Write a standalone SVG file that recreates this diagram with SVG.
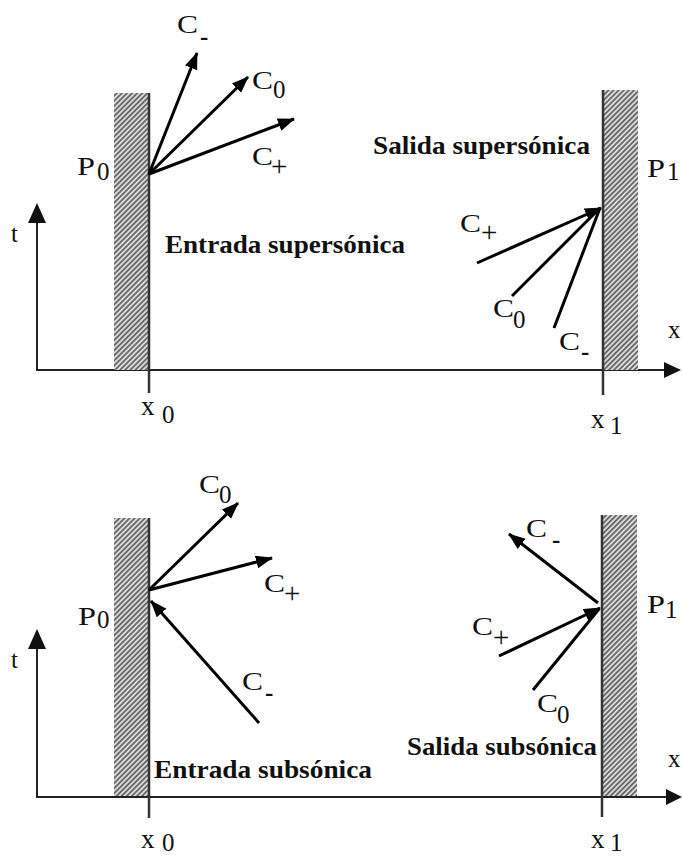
<svg xmlns="http://www.w3.org/2000/svg" width="682" height="857" viewBox="0 0 682 857">
<style>
.lbl{font-family:"Liberation Serif","Times New Roman",serif;font-size:25px;fill:#111}
.plus{font-family:"Liberation Serif","Times New Roman",serif;font-size:29px;fill:#111}
.bold{font-family:"Liberation Serif","Times New Roman",serif;font-size:26px;font-weight:bold;fill:#111}
.ax{font-family:"Liberation Serif","Times New Roman",serif;font-size:27px;fill:#111}
.wall{stroke:#333;stroke-width:2.5;fill:none}
.axis{stroke:#222;stroke-width:2;fill:none}
.arr{stroke:#000;stroke-width:3;fill:none}
.hatch{fill:url(#hp)}
</style>
<defs>
<pattern id="hp" patternUnits="userSpaceOnUse" width="3.6" height="10" patternTransform="rotate(45)">
<rect width="3.6" height="10" fill="#dadada"/>
<line x1="0.9" y1="0" x2="0.9" y2="10" stroke="#5a5a5a" stroke-width="1.6"/>
</pattern>
<marker id="ah" markerUnits="userSpaceOnUse" markerWidth="18" markerHeight="14" refX="16" refY="6.5" orient="auto">
<path d="M0,0 L17,6.5 L0,13 z" fill="#000"/>
</marker>
</defs>
<rect width="682" height="857" fill="#fff"/>

<!-- TOP PANEL -->
<g id="top-axes">
<path class="axis" d="M37,222 V370 H666"/>
<polygon points="37,203 28,223 46,223" fill="#111"/>
<polygon points="681,370 664,362 664,378" fill="#111"/>
</g>
<g id="top-wall-left">
<rect class="hatch" x="114" y="93" width="35" height="277"/>
<line class="wall" x1="149" y1="93" x2="149" y2="393"/>
</g>
<g id="top-wall-right">
<rect class="hatch" x="603" y="90" width="35" height="280"/>
<line class="wall" x1="603" y1="90" x2="603" y2="395"/>
</g>
<g id="top-connectors">
<line class="arr" x1="149" y1="174" x2="197" y2="53" marker-end="url(#ah)"/>
<line class="arr" x1="149" y1="174" x2="248" y2="77" marker-end="url(#ah)"/>
<line class="arr" x1="149" y1="174" x2="294" y2="119" marker-end="url(#ah)"/>
<line class="arr" x1="554" y1="328" x2="600" y2="208"/>
<line class="arr" x1="512" y1="296" x2="600" y2="208"/>
<line class="arr" x1="477" y1="263" x2="601" y2="208" marker-end="url(#ah)"/>
</g>
<g id="top-labels">
<text class="lbl" x="177" y="33" textLength="21" lengthAdjust="spacingAndGlyphs">C</text><text class="lbl" x="200" y="45" font-weight="bold">-</text>
<text class="lbl" x="252" y="89" textLength="21" lengthAdjust="spacingAndGlyphs">C</text><text class="lbl" x="273" y="98">0</text>
<text class="lbl" x="252" y="165" textLength="21" lengthAdjust="spacingAndGlyphs">C</text><text class="plus" x="271" y="176">+</text>
<text class="lbl" x="77" y="175" textLength="18" lengthAdjust="spacingAndGlyphs">P</text><text class="lbl" x="97" y="180">0</text>
<text class="lbl" x="647" y="177" textLength="18" lengthAdjust="spacingAndGlyphs">P</text><text class="lbl" x="667" y="180">1</text>
<text class="lbl" x="460" y="232" textLength="21" lengthAdjust="spacingAndGlyphs">C</text><text class="plus" x="481" y="242">+</text>
<text class="lbl" x="493" y="317" textLength="21" lengthAdjust="spacingAndGlyphs">C</text><text class="lbl" x="513" y="328">0</text>
<text class="lbl" x="559" y="350" textLength="21" lengthAdjust="spacingAndGlyphs">C</text><text class="lbl" x="581" y="360" font-weight="bold">-</text>
<text class="lbl" x="668" y="338">x</text>
<text class="lbl" x="11" y="242">t</text>
<text class="ax" x="141" y="415">x</text><text class="lbl" x="162" y="423">0</text>
<text class="ax" x="591" y="428">x</text><text class="lbl" x="610" y="434">1</text>
<text class="bold" x="373" y="154" textLength="217" lengthAdjust="spacingAndGlyphs">Salida supersónica</text>
<text class="bold" x="165" y="253" textLength="240" lengthAdjust="spacingAndGlyphs">Entrada supersónica</text>
</g>

<!-- BOTTOM PANEL -->
<g id="bottom-axes">
<path class="axis" d="M37,648 V797 H668"/>
<polygon points="37,629 28,649 46,649" fill="#111"/>
<polygon points="682,797 666,789 666,805" fill="#111"/>
</g>
<g id="bottom-wall-left">
<rect class="hatch" x="114" y="518" width="35" height="278"/>
<line class="wall" x1="149" y1="518" x2="149" y2="818"/>
</g>
<g id="bottom-wall-right">
<rect class="hatch" x="602" y="515" width="35" height="281"/>
<line class="wall" x1="602" y1="515" x2="602" y2="817"/>
</g>
<g id="bottom-connectors">
<line class="arr" x1="149" y1="590" x2="238" y2="503" marker-end="url(#ah)"/>
<line class="arr" x1="149" y1="590" x2="272" y2="558" marker-end="url(#ah)"/>
<line class="arr" x1="259" y1="723" x2="151" y2="601" marker-end="url(#ah)"/>
<line class="arr" x1="598" y1="603" x2="509" y2="534" marker-end="url(#ah)"/>
<line class="arr" x1="533" y1="690" x2="599" y2="609"/>
<line class="arr" x1="499" y1="656" x2="600" y2="608" marker-end="url(#ah)"/>
</g>
<g id="bottom-labels">
<text class="lbl" x="199" y="493" textLength="21" lengthAdjust="spacingAndGlyphs">C</text><text class="lbl" x="219" y="503">0</text>
<text class="lbl" x="264" y="592" textLength="21" lengthAdjust="spacingAndGlyphs">C</text><text class="plus" x="284" y="603">+</text>
<text class="lbl" x="242" y="690" textLength="21" lengthAdjust="spacingAndGlyphs">C</text><text class="lbl" x="265" y="701" font-weight="bold">-</text>
<text class="lbl" x="78" y="625" textLength="18" lengthAdjust="spacingAndGlyphs">P</text><text class="lbl" x="97" y="628">0</text>
<text class="lbl" x="526" y="537" textLength="21" lengthAdjust="spacingAndGlyphs">C</text><text class="lbl" x="552" y="548" font-weight="bold">-</text>
<text class="lbl" x="472" y="635" textLength="21" lengthAdjust="spacingAndGlyphs">C</text><text class="plus" x="493" y="647">+</text>
<text class="lbl" x="537" y="712" textLength="21" lengthAdjust="spacingAndGlyphs">C</text><text class="lbl" x="557" y="723">0</text>
<text class="lbl" x="647" y="613" textLength="18" lengthAdjust="spacingAndGlyphs">P</text><text class="lbl" x="665" y="618">1</text>
<text class="lbl" x="668" y="767">x</text>
<text class="lbl" x="11" y="668">t</text>
<text class="ax" x="141" y="848">x</text><text class="lbl" x="162" y="851" font-size="18">0</text>
<text class="ax" x="591" y="848">x</text><text class="lbl" x="610" y="851" font-size="18">1</text>
<text class="bold" x="154" y="778" textLength="218" lengthAdjust="spacingAndGlyphs">Entrada subsónica</text>
<text class="bold" x="407" y="755" textLength="190" lengthAdjust="spacingAndGlyphs">Salida subsónica</text>
</g>
</svg>
